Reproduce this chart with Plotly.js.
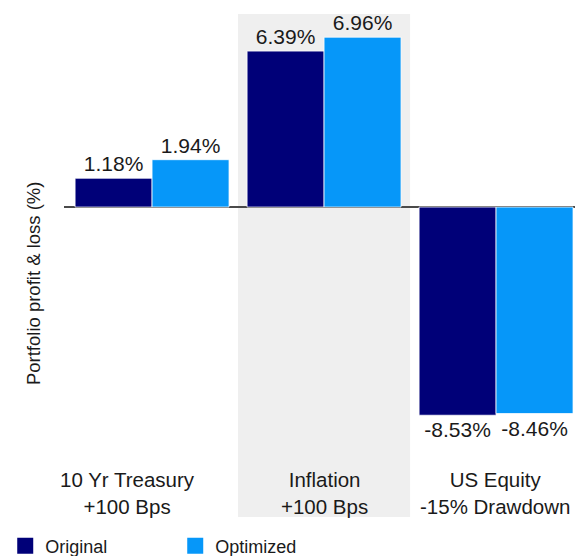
<!DOCTYPE html>
<html>
<head>
<meta charset="utf-8">
<script src="https://cdn.plot.ly/plotly-3.0.1.min.js"></script>
<style>
  html, body { margin: 0; padding: 0; background: #ffffff; }
  #chart { width: 578px; height: 556px; }
</style>
</head>
<body>
<div id="chart"></div>
<script>
// ---- Data ----
const categories = ['10 Yr Treasury<br>+100 Bps', 'Inflation<br>+100 Bps', 'US Equity<br>-15% Drawdown'];
const originalValues = [1.18, 6.39, -8.53];
const optimizedValues = [1.94, 6.96, -8.46];
const seriesNames = ['Original', 'Optimized'];
const yAxisTitle = 'Portfolio profit & loss (%)';

// ---- Style ----
const FONT = 'Liberation Sans, Arial, Helvetica, sans-serif';
const TEXT_COLOR = '#1a1a1a';
const COLORS = ['#000078', '#0697F9'];
const catIdx = categories.map((c, i) => i);
const fmt = v => v.toFixed(2) + '%';

function barTrace(name, values, color) {
  return {
    type: 'bar',
    name: name,
    x: catIdx,
    y: values,
    text: values.map(fmt),
    textposition: 'outside',
    cliponaxis: false,
    constraintext: 'none',
    textfont: { family: FONT, size: 21, color: TEXT_COLOR },
    marker: { color: color, line: { color: '#ffffff', width: 0.75 } },
    showlegend: false,
    hoverinfo: 'skip'
  };
}

function legendTrace(name, color) {
  return {
    type: 'scatter',
    mode: 'markers',
    name: name,
    x: [null],
    y: [null],
    marker: { symbol: 'square', size: 16, color: color },
    showlegend: true,
    hoverinfo: 'skip'
  };
}

const traces = [
  barTrace(seriesNames[0], originalValues, COLORS[0]),
  barTrace(seriesNames[1], optimizedValues, COLORS[1]),
  legendTrace(seriesNames[0], COLORS[0]),
  legendTrace(seriesNames[1], COLORS[1])
];

const labelOffsets = [-0.14, 0, -0.005];

const annotations = categories.map((c, i) => ({
  text: c,
  xref: 'x',
  yref: 'paper',
  x: i + labelOffsets[i],
  y: 0.048,
  xanchor: 'center',
  yanchor: 'middle',
  align: 'center',
  showarrow: false,
  font: { family: FONT, size: 20.5, color: TEXT_COLOR }
}));

annotations.push({
  text: yAxisTitle,
  xref: 'paper',
  yref: 'paper',
  x: -0.0607,
  y: 0.465,
  xanchor: 'center',
  yanchor: 'middle',
  textangle: -90,
  showarrow: false,
  font: { family: FONT, size: 18.5, color: TEXT_COLOR }
});

const layout = {
  width: 578,
  height: 556,
  margin: { l: 64, r: 3, t: 14, b: 39, pad: 0, autoexpand: false },
  paper_bgcolor: '#ffffff',
  plot_bgcolor: 'rgba(0,0,0,0)',
  font: { family: FONT, size: 20, color: TEXT_COLOR },
  barmode: 'group',
  bargap: 0.105,
  bargroupgap: 0,
  xaxis: {
    type: 'linear',
    range: [-0.512, 2.459],
    showgrid: false,
    zeroline: false,
    showline: false,
    showticklabels: false,
    ticks: '',
    fixedrange: true
  },
  yaxis: {
    range: [-12.70, 7.91],
    showgrid: false,
    showline: false,
    showticklabels: false,
    ticks: '',
    zeroline: true,
    zerolinecolor: '#4a4a4a',
    zerolinewidth: 2,
    fixedrange: true
  },
  shapes: [{
    type: 'rect',
    xref: 'x',
    yref: 'paper',
    x0: 0.5,
    x1: 1.5,
    y0: 0,
    y1: 1,
    fillcolor: '#EFEFEF',
    line: { width: 0 },
    layer: 'below'
  }],
  annotations: annotations,
  showlegend: true,
  legend: {
    orientation: 'h',
    x: -0.115,
    xanchor: 'left',
    y: -0.058,
    yanchor: 'middle',
    entrywidth: 125,
    entrywidthmode: 'pixels',
    font: { family: FONT, size: 18, color: TEXT_COLOR },
    bgcolor: 'rgba(0,0,0,0)',
    borderwidth: 0,
    itemsizing: 'trace'
  }
};

Plotly.newPlot('chart', traces, layout, { displayModeBar: false, staticPlot: true });
</script>
</body>
</html>
